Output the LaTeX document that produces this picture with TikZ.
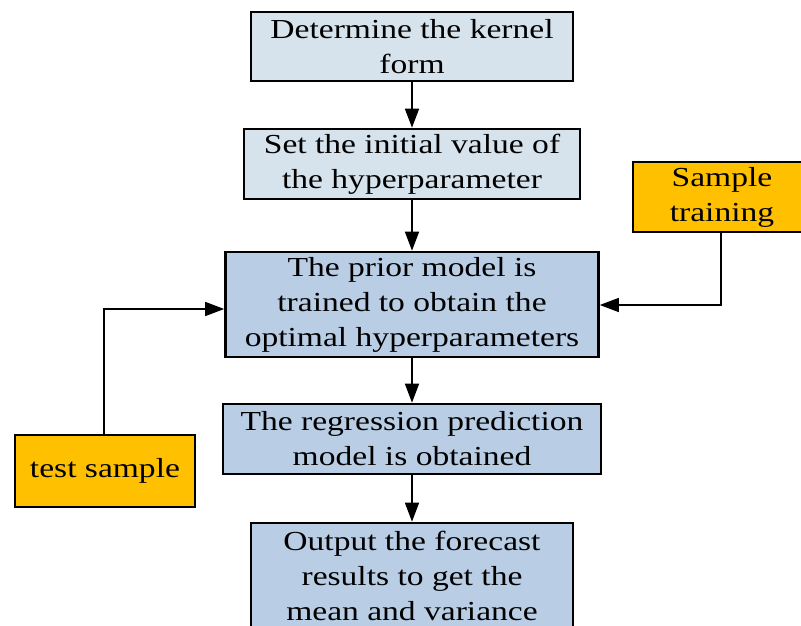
\documentclass[tikz,border=0pt]{standalone}
\usepackage{fontspec}
\setmainfont[FakeStretch=1.22]{Liberation Serif}
\usetikzlibrary{arrows.meta}
\definecolor{paleblue}{HTML}{D6E2EC}
\definecolor{stepblue}{HTML}{B9CDE4}
\definecolor{inputorange}{HTML}{FFC000}
\begin{document}
\begin{tikzpicture}[x=1pt,y=-1pt,
  box/.style={draw=black,line width=2.6pt,rectangle,align=center,inner sep=0pt,
    font=\fontsize{27.5}{35}\selectfont},
  conn/.style={line width=1.5pt,-{Triangle[length=19pt,width=14pt]}}]
\useasboundingbox (0,0) rectangle (801,626);
\begin{scope}
\clip (0,0) rectangle (801,626);
\node[box,fill=paleblue,minimum width=322pt,minimum height=69pt] (kernel) at (412,46.5)
  {Determine the kernel\\form};
\node[box,fill=paleblue,minimum width=336pt,minimum height=70pt] (init) at (412,164)
  {Set the initial value of\\the hyperparameter};
\node[box,fill=stepblue,minimum width=373pt,minimum height=105pt] (prior) at (412,304.5)
  {The prior model is\\trained to obtain the\\optimal hyperparameters};
\node[box,fill=stepblue,minimum width=378pt,minimum height=70pt] (regr) at (412,439)
  {The regression prediction\\model is obtained};
\node[box,fill=stepblue,minimum width=322pt,minimum height=106pt] (output) at (412,576)
  {Output the forecast\\results to get the\\mean and variance};
\node[box,fill=inputorange,minimum width=178pt,minimum height=70pt] (train) at (722,197)
  {Sample\\training};
\node[box,fill=inputorange,minimum width=180pt,minimum height=72pt] (test) at (105,471)
  {test sample};
\end{scope}
\draw[conn] (kernel.south) -- (init.north);
\draw[conn] (init.south) -- (prior.north);
\draw[conn] (prior.south) -- (regr.north);
\draw[conn] (regr.south) -- (output.north);
\coordinate (trainbend) at (721,305);
\coordinate (testbend) at (104,309);
\draw[conn] (train.south -| trainbend) -- (trainbend) -- (trainbend -| prior.east);
\draw[conn] (test.north -| testbend) -- (testbend) -- (testbend -| prior.west);
\end{tikzpicture}
\end{document}
